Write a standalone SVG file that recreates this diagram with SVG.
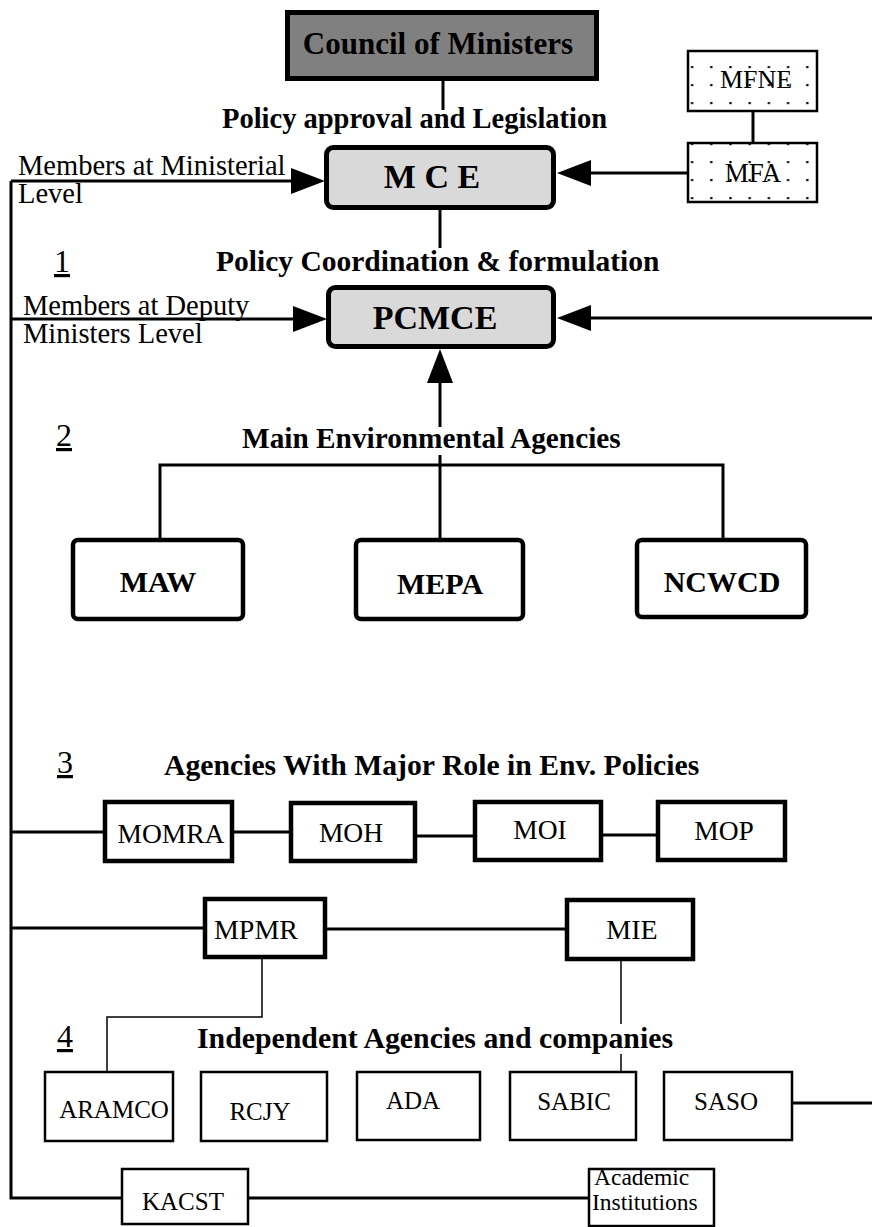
<svg xmlns="http://www.w3.org/2000/svg" width="872" height="1227" viewBox="0 0 872 1227">
<defs>
<pattern id="dots1" patternUnits="userSpaceOnUse" x="683" y="58" width="19.2" height="18"><rect x="8" y="8" width="2.2" height="2.2" fill="#000"/></pattern>
<pattern id="dots2" patternUnits="userSpaceOnUse" x="683" y="153" width="19.2" height="18"><rect x="8" y="8" width="2.2" height="2.2" fill="#000"/></pattern>
<marker id="ah" viewBox="0 0 34 26" refX="0" refY="13" markerWidth="34" markerHeight="26" markerUnits="userSpaceOnUse" orient="auto"><path d="M0,0 L34,13 L0,26 Z" fill="#000"/></marker>
</defs>
<style>
.t{font-family:"Liberation Serif","Times New Roman",serif;fill:#000}
.b{font-weight:bold}
.m{text-anchor:middle}
.ln{stroke:#000;stroke-width:3;fill:none}
.thin{stroke:#000;stroke-width:1.5;fill:none}
.heavy{stroke:#000;stroke-width:5}
.mid{stroke:#000;stroke-width:4.5;fill:#fff}
.lite{stroke:#000;stroke-width:2.5;fill:#fff}
.u{text-decoration:underline}
</style>
<rect width="872" height="1227" fill="#fff"/>

<g id="connectors">
<path class="ln" d="M443,80 V110"/>
<path class="ln" d="M11,181 V1198 H122"/>
<path class="ln" d="M11,181 H291" marker-end="url(#ah)"/>
<path class="ln" d="M11,319 H293" marker-end="url(#ah)"/>
<path class="ln" d="M688,173 H591" marker-end="url(#ah)"/>
<path class="ln" d="M753,112 V143"/>
<path class="ln" d="M440,208 V248"/>
<path class="ln" d="M872,318 H591" marker-end="url(#ah)"/>
<path class="ln" d="M440,427 V383" marker-end="url(#ah)"/>
<path class="ln" d="M160,540 V465 H723 V540"/>
<path class="ln" d="M440,455 V540"/>
<path class="ln" d="M11,832 H105"/>
<path class="ln" d="M232,832 H291"/>
<path class="ln" d="M415,836 H475"/>
<path class="ln" d="M601,835 H658"/>
<path class="ln" d="M11,928 H205"/>
<path class="ln" d="M325,929 H567"/>
<path class="thin" d="M262,957 V1017 H107 V1072"/>
<path class="thin" d="M621,959 V1024"/>
<path class="thin" d="M621,1054 V1072"/>
<path class="ln" d="M792,1103 H872"/>
<path class="ln" d="M248,1198 H589"/>
</g>

<g id="council">
<rect x="287.5" y="12.5" width="309" height="66" fill="#808080" class="heavy"/>
<text class="t b m" x="438" y="54" font-size="31">Council of Ministers</text>
</g>
<text class="t b" x="222" y="128" font-size="28.5">Policy approval and Legislation</text>

<g id="mfne">
<rect x="688" y="51" width="129" height="60" fill="url(#dots1)" stroke="#000" stroke-width="2.5"/>
<text class="t m" x="756" y="88" font-size="26">MFNE</text>
</g>
<g id="mfa">
<rect x="688" y="143" width="129" height="59" fill="url(#dots2)" stroke="#000" stroke-width="2.5"/>
<text class="t m" x="753" y="182" font-size="27">MFA</text>
</g>

<text class="t" x="18" y="175" font-size="28.5">Members at Ministerial</text>
<text class="t" x="18" y="203" font-size="28.5">Level</text>

<g id="mce">
<rect x="326.5" y="147.5" width="227" height="60" rx="7" fill="#d9d9d9" class="heavy"/>
<text class="t b m" x="432" y="188" font-size="34">M C E</text>
</g>

<text class="t u" x="54" y="272" font-size="32">1</text>
<text class="t b" x="216" y="271" font-size="29.5">Policy Coordination &amp; formulation</text>

<text class="t" x="23" y="315" font-size="28.5">Members at Deputy</text>
<text class="t" x="23" y="343" font-size="28.5">Ministers Level</text>

<g id="pcmce">
<rect x="328.5" y="287.5" width="225" height="59" rx="7" fill="#d9d9d9" class="heavy"/>
<text class="t b m" x="435" y="329" font-size="34">PCMCE</text>
</g>

<text class="t u" x="56" y="446" font-size="32">2</text>
<text class="t b" x="242" y="448" font-size="29.3">Main Environmental Agencies</text>

<g id="maw">
<rect x="73" y="540" width="170" height="79" rx="5" class="mid"/>
<text class="t b m" x="158" y="592" font-size="30">MAW</text>
</g>
<g id="mepa">
<rect x="356" y="540" width="167" height="79" rx="5" class="mid"/>
<text class="t b m" x="440" y="594" font-size="30">MEPA</text>
</g>
<g id="ncwcd">
<rect x="637" y="540" width="169" height="77" rx="5" class="mid"/>
<text class="t b m" x="722" y="592" font-size="30">NCWCD</text>
</g>

<text class="t u" x="57" y="773" font-size="32">3</text>
<text class="t b" x="164" y="775" font-size="29.7">Agencies With Major Role in Env. Policies</text>

<g id="momra">
<rect x="105" y="802" width="127" height="59" class="mid"/>
<text class="t m" x="171" y="843" font-size="27.5">MOMRA</text>
</g>
<g id="moh">
<rect x="291" y="803" width="124" height="58" class="mid"/>
<text class="t m" x="351" y="842" font-size="27.5">MOH</text>
</g>
<g id="moi">
<rect x="475" y="802" width="126" height="58" class="mid"/>
<text class="t m" x="540" y="839" font-size="27.5">MOI</text>
</g>
<g id="mop">
<rect x="658" y="802" width="127" height="58" class="mid"/>
<text class="t m" x="724" y="840" font-size="27.5">MOP</text>
</g>

<g id="mpmr">
<rect x="205" y="899" width="120" height="58" class="mid"/>
<text class="t m" x="256" y="939" font-size="28">MPMR</text>
</g>
<g id="mie">
<rect x="567" y="900" width="126" height="59" class="mid"/>
<text class="t m" x="632" y="939" font-size="28">MIE</text>
</g>

<text class="t u" x="57" y="1047" font-size="32">4</text>
<text class="t b" x="197" y="1048" font-size="29.8">Independent Agencies and companies</text>

<g id="aramco">
<rect x="45" y="1072" width="128" height="69" class="lite"/>
<text class="t m" x="114" y="1118" font-size="25">ARAMCO</text>
</g>
<g id="rcjy">
<rect x="201" y="1072" width="126" height="69" class="lite"/>
<text class="t m" x="260" y="1120" font-size="25">RCJY</text>
</g>
<g id="ada">
<rect x="357" y="1072" width="123" height="68" class="lite"/>
<text class="t m" x="413" y="1109" font-size="25">ADA</text>
</g>
<g id="sabic">
<rect x="510" y="1072" width="126" height="68" class="lite"/>
<text class="t m" x="574" y="1110" font-size="25">SABIC</text>
</g>
<g id="saso">
<rect x="664" y="1072" width="128" height="68" class="lite"/>
<text class="t m" x="726" y="1110" font-size="25">SASO</text>
</g>

<g id="kacst">
<rect x="122" y="1169" width="126" height="55" class="lite"/>
<text class="t m" x="183" y="1210" font-size="25">KACST</text>
</g>
<g id="academic">
<rect x="589" y="1169" width="125" height="57" class="lite"/>
<text class="t" x="594" y="1185" font-size="23.5">Academic</text>
<text class="t" x="592" y="1210" font-size="23.5">Institutions</text>
</g>
</svg>
